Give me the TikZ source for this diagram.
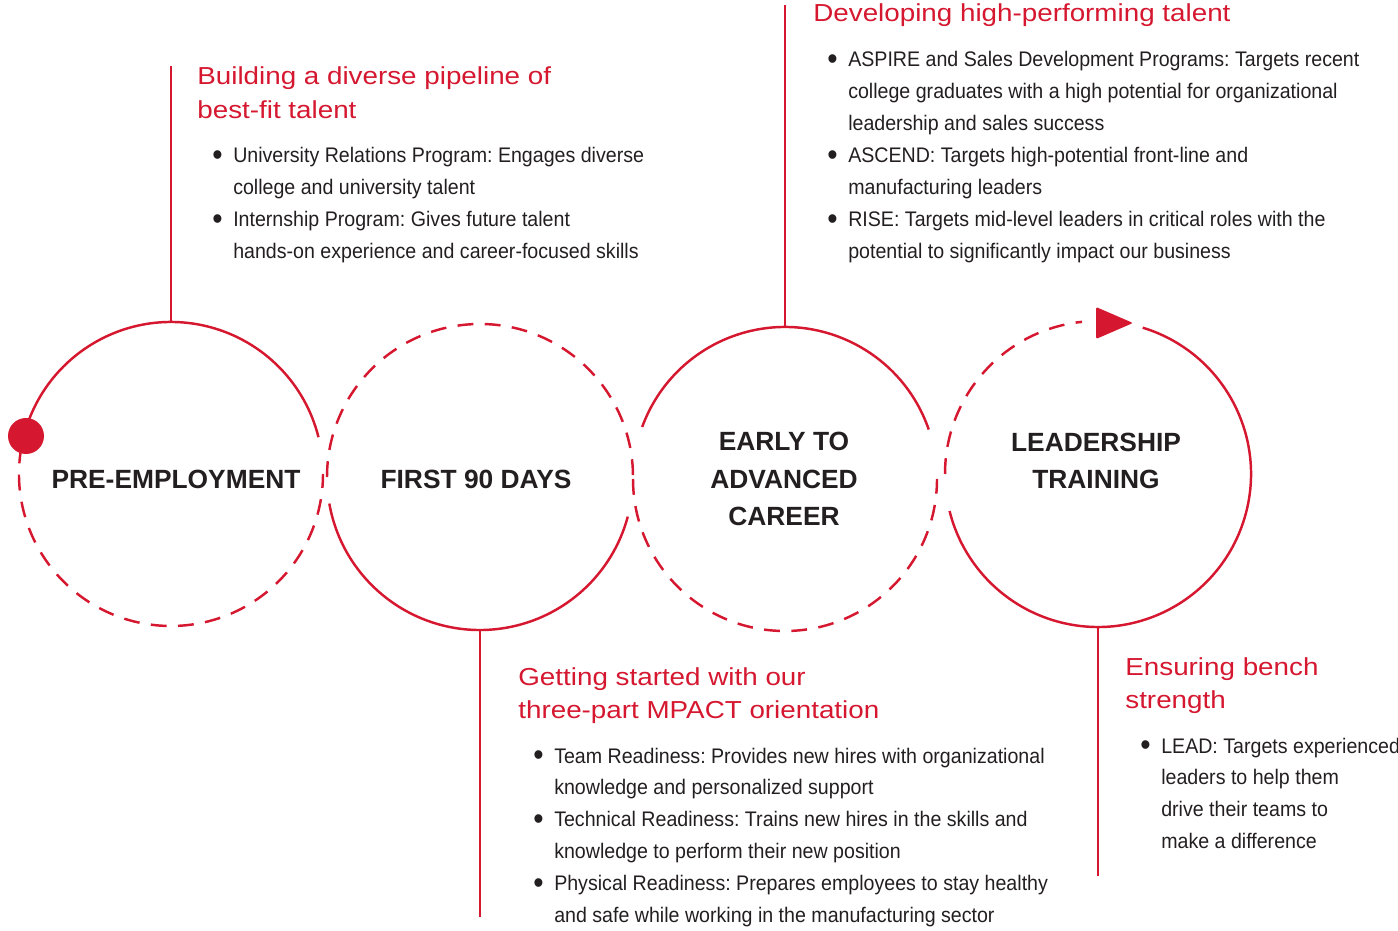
\documentclass[tikz,border=0pt]{standalone}
\usepackage{fontspec}
\setmainfont{Liberation Sans}
\newfontfamily\bodyfont[FakeStretch=0.93]{Liberation Sans}
\newfontfamily\headfont[FakeStretch=1.13]{Liberation Sans}
\usepackage{graphicx}
\usepackage{xcolor}
\usepackage{tikz}
\usetikzlibrary{shapes,arrows,positioning}

\definecolor{pipered}{RGB}{213,24,48}
\definecolor{inkgray}{RGB}{35,31,32}

\frenchspacing
\newlength{\bulletgap}
\setlength{\bulletgap}{11.9pt}
\newcommand{\itm}{\makebox[\bulletgap][l]{\raisebox{-1.6pt}{\scalebox{1.5}{\textbullet}}}}
\newcommand{\cnt}{\hspace*{\bulletgap}}

\tikzset{
    ringline/.style={line width=1.4pt, color=pipered},
    ringdash/.style={ringline, dash pattern=on 9pt off 6.5pt},
    stemline/.style={line width=1.4pt, color=pipered},
    stagelabel/.style={align=center, inner sep=0pt, text=inkgray,
        font=\bfseries\fontsize{15pt}{21.5pt}\selectfont},
    heading/.style={anchor=base west, inner sep=0pt, text=pipered,
        font=\headfont\fontsize{14pt}{19.3pt}\selectfont},
    bullets/.style={anchor=base west, inner sep=0pt, text=inkgray,
        font=\bodyfont\fontsize{12pt}{18.14pt}\selectfont}
}

\begin{document}
\begin{tikzpicture}[x=0.02cm, y=0.02cm]
                \useasboundingbox (0,0) rectangle (1398,930);

                \coordinate (pre-c) at (171,456);
                \coordinate (first-c) at (480,453);
                \coordinate (early-c) at (785,451);
                \coordinate (lead-c) at (1098,456);

                \draw[
                    ringline
                    ] ([shift={(165:152)}]pre-c) arc[start angle=165, end angle=14, radius=152];
                \draw[
                    ringdash
                    ] ([shift={(170:152)}]pre-c) arc[start angle=170, end angle=360, radius=152];

                \draw[
                    ringline
                    ] ([shift={(190:153)}]first-c) arc[start angle=190, end angle=345, radius=153];
                \draw[
                    ringdash
                    ] ([shift={(180:153)}]first-c) arc[start angle=180, end angle=0, radius=153];

                \draw[
                    ringline
                    ] ([shift={(19:152)}]early-c) arc[start angle=19, end angle=160, radius=152];
                \draw[
                    ringdash
                    ] ([shift={(180:152)}]early-c) arc[start angle=180, end angle=360, radius=152];

                \draw[
                    ringline
                    ] ([shift={(73:153)}]lead-c) arc[start angle=73, end angle=-166, radius=153];
                \draw[
                    ringdash
                    ] ([shift={(180:153)}]lead-c) arc[start angle=180, end angle=96, radius=153];

                \fill[
                    pipered
                    ] (26,494) circle (18);

                \fill[
                    pipered,
                    rounded corners=0.8pt
                    ] (1096,623) -- (1133,607) -- (1096,591) -- cycle;

                \coordinate (pre-tip) at (171,864);
                \coordinate (first-tip) at (480,13);
                \coordinate (early-tip) at (785,925);
                \coordinate (lead-tip) at (1098,54);

                \draw[stemline] ([shift={(90:152)}]pre-c) -- (pre-tip);
                \draw[stemline] ([shift={(270:153)}]first-c) -- (first-tip);
                \draw[stemline] ([shift={(90:152)}]early-c) -- (early-tip);
                \draw[stemline] ([shift={(270:153)}]lead-c) -- (lead-tip);

                \node[stagelabel] (pre) at (176,451) {PRE-EMPLOYMENT};
                \node[stagelabel] (first) at (476,451) {FIRST 90 DAYS};
                \node[stagelabel] (early) at (784,451) {EARLY TO\\ADVANCED\\CAREER};
                \node[stagelabel] (lead) at (1096,469) {LEADERSHIP\\TRAINING};

                \node[heading] (pre-head) at (197,845) {\begin{tabular}[t]{@{}l@{}}
                    Building a diverse pipeline of\\
                    best-fit talent
                \end{tabular}};
                \node[bullets] (pre-list) at (212,767) {\begin{tabular}[t]{@{}l@{}}
                    \itm University Relations Program: Engages diverse\\
                    \cnt college and university talent\\
                    \itm Internship Program: Gives future talent\\
                    \cnt hands-on experience and career-focused skills
                \end{tabular}};

                \node[heading] (first-head) at (518,245) {\begin{tabular}[t]{@{}l@{}}
                    Getting started with our\\
                    three-part MPACT orientation
                \end{tabular}};
                \node[bullets] (first-list) at (533,167) {\begin{tabular}[t]{@{}l@{}}
                    \itm Team Readiness: Provides new hires with organizational\\
                    \cnt knowledge and personalized support\\
                    \itm Technical Readiness: Trains new hires in the skills and\\
                    \cnt knowledge to perform their new position\\
                    \itm Physical Readiness: Prepares employees to stay healthy\\
                    \cnt and safe while working in the manufacturing sector
                \end{tabular}};

                \node[heading] (early-head) at (813,908) {\begin{tabular}[t]{@{}l@{}}
                    Developing high-performing talent
                \end{tabular}};
                \node[bullets] (early-list) at (827,863) {\begin{tabular}[t]{@{}l@{}}
                    \itm ASPIRE and Sales Development Programs: Targets recent\\
                    \cnt college graduates with a high potential for organizational\\
                    \cnt leadership and sales success\\
                    \itm ASCEND: Targets high-potential front-line and\\
                    \cnt manufacturing leaders\\
                    \itm RISE: Targets mid-level leaders in critical roles with the\\
                    \cnt potential to significantly impact our business
                \end{tabular}};

                \node[heading] (lead-head) at (1125,255) {\begin{tabular}[t]{@{}l@{}}
                    Ensuring bench\\
                    strength
                \end{tabular}};
                \node[bullets] (lead-list) at (1140,177) {\begin{tabular}[t]{@{}l@{}}
                    \itm LEAD: Targets experienced\\
                    \cnt leaders to help them\\
                    \cnt drive their teams to\\
                    \cnt make a difference
                \end{tabular}};

            \end{tikzpicture}
\end{document}
